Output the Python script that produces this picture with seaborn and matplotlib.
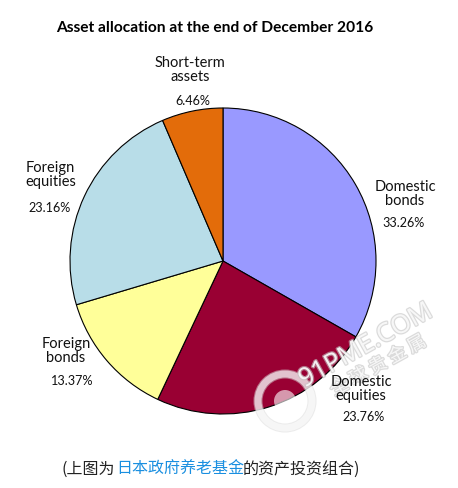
import matplotlib
matplotlib.use('Agg')
import matplotlib.pyplot as plt
import matplotlib.patheffects as pe
import seaborn as sns

sns.set_theme(style='white')
plt.rcParams['font.family'] = ['Lato', 'Noto Sans CJK SC', 'DejaVu Sans']

labels = ['Domestic\nbonds', 'Domestic\nequities', 'Foreign\nbonds', 'Foreign\nequities', 'Short-term\nassets']
shares = [33.26, 23.76, 13.37, 23.16, 6.46]
colors = ['#9999ff', '#990033', '#ffff99', '#b8dde8', '#e36c0a']
title = 'Asset allocation at the end of December 2016'
watermark = '91PME.COM'
watermark_cn = '全 球 贵 金 属'
cjk = ['Noto Sans CJK SC', 'DejaVu Sans']

fig = plt.figure(figsize=(4.58, 4.89), dpi=100)
ax = fig.add_axes([0, 0, 1, 1])

# pie goes clockwise from 12 o'clock, y axis is flipped so counterclock=True
ax.pie(shares, colors=colors, startangle=-90, counterclock=True, center=(223, 262), radius=153,
       wedgeprops={'edgecolor': 'black', 'linewidth': 0.8}, frame=True)
ax.set_xlim(0, 458)
ax.set_ylim(489, 0)
ax.set_aspect('equal')
ax.axis('off')

ax.text(214.5, 28, title, ha='center', va='center', fontsize=11.2, fontweight='bold', color='black')

# watermark, white with soft grey edge
halo = [pe.withStroke(linewidth=1.8, foreground='#c4c4c4', alpha=0.6)]
ax.add_patch(plt.Circle((285, 402), 27, fill=False, edgecolor='white', linewidth=5, alpha=0.6,
                        path_effects=[pe.withStroke(linewidth=6.5, foreground='#d8d8d8', alpha=0.5)]))
ax.add_patch(plt.Circle((285, 402), 11, fill=True, facecolor='white', edgecolor='none', alpha=0.6))
ax.text(366, 347, watermark, rotation=29, ha='center', va='center', fontsize=18.5, color='white',
        alpha=0.8, family=['Open Sans'], path_effects=halo)
ax.text(378, 367, watermark_cn, rotation=29, ha='center', va='center', fontsize=13, color='white',
        alpha=0.8, family=cjk, path_effects=halo)

pos = [(405, 194), (361, 389), (66, 351), (51, 175), (190, 70)]
pct_pos = [(404, 223), (364, 417), (72, 381), (50, 208), (193, 101)]
align = ['center', 'center', 'center', 'left', 'center']
for lab, s, p, q, a in zip(labels, shares, pos, pct_pos, align):
    ax.text(p[0], p[1], lab, ha='center', va='center', multialignment=a, fontsize=10.5,
            color='#111111', linespacing=1.0)
    ax.text(q[0], q[1], '%.2f%%' % s, ha='center', va='center', fontsize=9.1, color='#111111')

ax.text(61, 469, '(上图为', ha='left', va='center', fontsize=11.5, color='#222222', family=cjk)
ax.text(116, 469, '日本政府养老基金', ha='left', va='center', fontsize=11.5, color='#1a8fe0', family=cjk)
ax.text(243, 469, '的资产投资组合)', ha='left', va='center', fontsize=11.5, color='#222222', family=cjk)

fig.savefig('out.png', dpi=100)
